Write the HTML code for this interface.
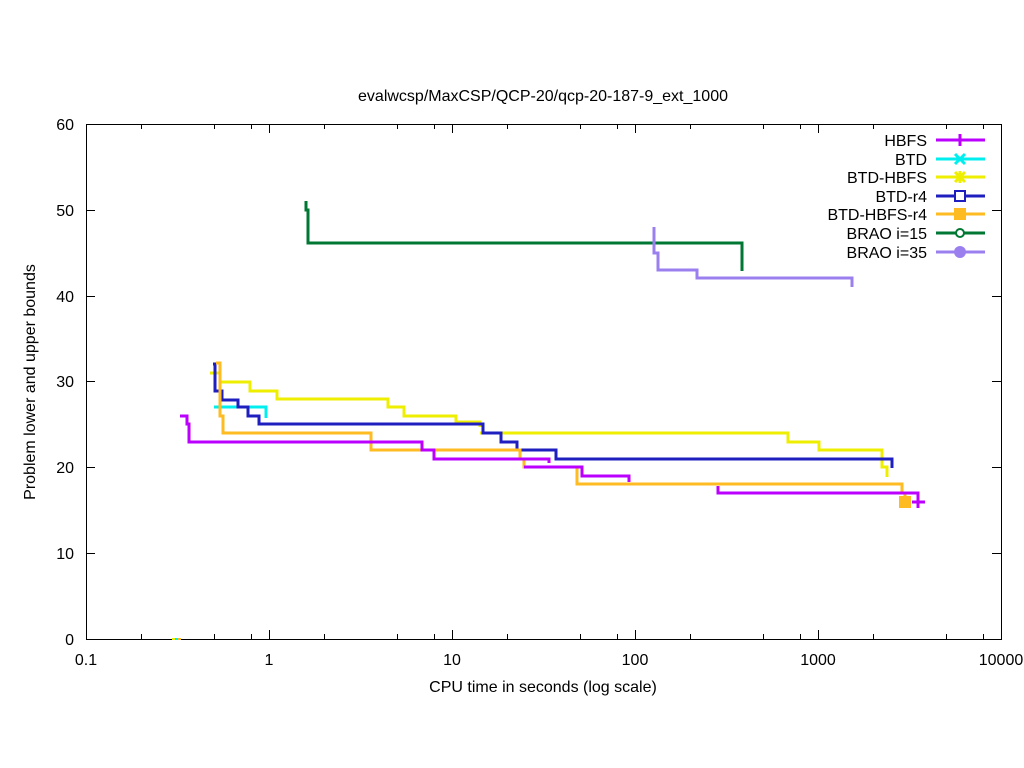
<!DOCTYPE html>
<html><head><meta charset="utf-8"><style>body{margin:0;background:#fff}svg{display:block}</style></head><body>
<svg width="1024" height="768" xmlns="http://www.w3.org/2000/svg" font-family="Liberation Sans, sans-serif" font-size="16">
<rect width="1024" height="768" fill="#fff"/>
<text x="543" y="101" text-anchor="middle">evalwcsp/MaxCSP/QCP-20/qcp-20-187-9_ext_1000</text>
<g stroke="#000" stroke-width="1" fill="none">
<rect x="86.5" y="124.5" width="915" height="515"/>
<path d="M86 553.5h9M1001 553.5h-9M86 467.5h9M1001 467.5h-9M86 381.5h9M1001 381.5h-9M86 296.5h9M1001 296.5h-9M86 210.5h9M1001 210.5h-9"/>
<path d="M269.5 639v-9M269.5 124v9M452.5 639v-9M452.5 124v9M635.5 639v-9M635.5 124v9M818.5 639v-9M818.5 124v9"/>
<path d="M141.5 639v-5M214.5 639v-5M251.5 639v-5M324.5 639v-5M397.5 639v-5M434.5 639v-5M507.5 639v-5M580.5 639v-5M617.5 639v-5M690.5 639v-5M763.5 639v-5M800.5 639v-5M873.5 639v-5M946.5 639v-5M983.5 639v-5
M141.5 124v5M214.5 124v5M251.5 124v5M324.5 124v5M397.5 124v5M434.5 124v5M507.5 124v5M580.5 124v5M617.5 124v5M690.5 124v5M763.5 124v5M800.5 124v5M873.5 124v5M946.5 124v5M983.5 124v5"/>
</g>
<g text-anchor="end">
<text x="74" y="645">0</text><text x="74" y="559">10</text><text x="74" y="473">20</text><text x="74" y="387">30</text><text x="74" y="302">40</text><text x="74" y="216">50</text><text x="74" y="130">60</text>
</g>
<g text-anchor="middle">
<text x="86" y="665">0.1</text><text x="269" y="665">1</text><text x="452" y="665">10</text><text x="635" y="665">100</text><text x="818" y="665">1000</text><text x="1001" y="665">10000</text>
<text x="543" y="692">CPU time in seconds (log scale)</text>
</g>
<text transform="translate(35,382) rotate(-90)" text-anchor="middle">Problem lower and upper bounds</text>
<g fill="none" stroke-width="3">
<path stroke="#00eeee" d="M214 407H266V418"/>
<path stroke="#eeee00" d="M210 373H220V382H250V391H277V399H388V407H404V416H456V422H480V427M480 433H788V442H819V450H882V467H887V477"/>
<path stroke="#1f1fbf" d="M213 364H215V391H222V400H238V407H248V416H259V424H483V433H501V442H517V450H556V459H892V468"/>
<path stroke="#ffbb22" d="M216 363H220V416H223V433H371V450H520V459H524V467H577V484H902V493H905V502"/>
<path stroke="#bb00ff" d="M180 416H187V424H189V442H422V450H434V459H549V463M524 467H582V476H629V482M718 486V493H918V502"/>
<path stroke="#007733" d="M306 201V210H308V243H742V271"/>
<path stroke="#9b7fef" d="M654 227V253H658V270H697V278H852V287"/>
</g>
<rect x="899" y="496" width="12" height="12" fill="#ffbb22"/>
<path d="M912 502H925M918 496V508" stroke="#bb00ff" stroke-width="3"/>
<g text-anchor="end">
<text x="927" y="146">HBFS</text><text x="927" y="165">BTD</text><text x="927" y="183">BTD-HBFS</text><text x="927" y="202">BTD-r4</text><text x="927" y="220">BTD-HBFS-r4</text><text x="927" y="239">BRAO i=15</text><text x="927" y="258">BRAO i=35</text>
</g>
<g stroke-width="3" fill="none">
<path stroke="#bb00ff" d="M936 140H985M960 134V146"/>
<path stroke="#00eeee" d="M936 159H985M955 154L965 164M965 154L955 164"/>
<path stroke="#eeee00" d="M936 177H985M955 172L965 182M965 172L955 182M960 171V183"/>
<path stroke="#1f1fbf" d="M936 196H985"/><rect x="955" y="191" width="10" height="10" stroke="#1f1fbf" stroke-width="2" fill="#fff"/>
<path stroke="#ffbb22" d="M936 214H985"/><rect x="954" y="208" width="12" height="12" fill="#ffbb22"/>
<path stroke="#007733" d="M936 233H985"/><circle cx="960" cy="233" r="4" stroke="#007733" stroke-width="2" fill="#fff"/>
<path stroke="#9b7fef" d="M936 252H985"/><circle cx="960" cy="252" r="6" fill="#9b7fef" stroke="none"/>
</g>
<rect x="172" y="638" width="3" height="2" fill="#eeee00"/><rect x="175" y="638" width="3" height="2" fill="#00eeee"/><rect x="178" y="638" width="3" height="2" fill="#ffbb22"/>
</svg>
</body></html>
